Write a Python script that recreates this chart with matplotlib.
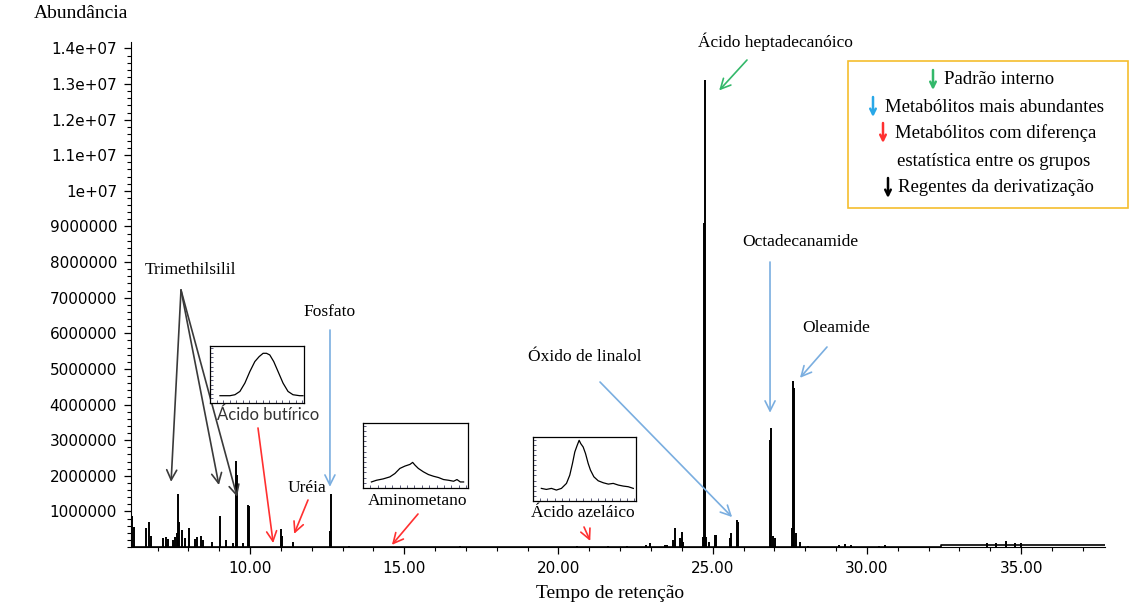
import matplotlib
matplotlib.use("Agg")
import matplotlib.pyplot as plt
from matplotlib.patches import Rectangle
from matplotlib.ticker import MultipleLocator, FixedLocator, NullFormatter

# # Dados do cromatograma (tempo de retenção em min, abundância)
peak_rt = [
    6.17, 6.24, 6.63, 6.73, 6.79, 7.17, 7.28, 7.35, 7.49, 7.57, 7.62, 7.68,
    7.71, 7.79, 7.89, 8.03, 8.22, 8.29, 8.41, 8.46, 8.76, 9.03, 9.22, 9.46,
    9.55, 9.59, 9.76, 9.94, 9.98, 11.01, 11.05, 11.40, 12.59, 12.63,
    13.2, 16.8, 20.59, 21.6, 22.21, 22.84, 22.97, 23.46, 23.52, 23.70,
    23.77, 23.94, 24.00, 24.04, 24.67, 24.72, 24.75, 24.79, 24.88, 25.08,
    25.11, 25.55, 25.60, 25.79, 25.82, 26.86, 26.90, 26.95, 27.02, 27.57,
    27.62, 27.65, 27.70, 27.83, 28.1, 29.1, 29.3, 29.5, 30.4, 30.6,
    33.9, 34.2, 34.5, 34.8, 35.0,
]
peak_abund = [
    0.87e6, 0.55e6, 0.53e6, 0.70e6, 0.30e6, 0.25e6, 0.28e6, 0.22e6, 0.20e6,
    0.28e6, 0.39e6, 1.50e6, 0.70e6, 0.49e6, 0.25e6, 0.53e6, 0.22e6, 0.28e6,
    0.30e6, 0.20e6, 0.14e6, 0.88e6, 0.19e6, 0.11e6, 2.41e6, 2.03e6, 0.11e6,
    1.19e6, 1.14e6, 0.51e6, 0.30e6, 0.14e6, 0.44e6, 1.49e6,
    0.03e6, 0.02e6, 0.03e6, 0.03e6, 0.04e6, 0.05e6, 0.10e6, 0.05e6, 0.05e6,
    0.19e6, 0.52e6, 0.24e6, 0.43e6, 0.14e6, 0.28e6, 9.1e6, 13.1e6, 0.28e6,
    0.14e6, 0.35e6, 0.33e6, 0.24e6, 0.38e6, 0.76e6, 0.71e6, 3.0e6, 3.33e6,
    0.30e6, 0.24e6, 0.52e6, 4.66e6, 4.47e6, 0.38e6, 0.14e6, 0.03e6, 0.05e6,
    0.08e6, 0.05e6, 0.04e6, 0.05e6,
    0.10e6, 0.10e6, 0.18e6, 0.10e6, 0.10e6,
]
# linha de base (sobe um pouco a partir de 32.4 min)
base_rt = [6.14, 32.4, 32.4, 37.72]
base_abund = [0, 0, 0.05e6, 0.05e6]

# eixos
x_ticks = [10, 15, 20, 25, 30, 35]
x_tick_labels = ["10.00", "15.00", "20.00", "25.00", "30.00", "35.00"]
y_ticks = [1e6, 2e6, 3e6, 4e6, 5e6, 6e6, 7e6, 8e6, 9e6, 1e7, 1.1e7, 1.2e7, 1.3e7, 1.4e7]
y_tick_labels = ["1000000", "2000000", "3000000", "4000000", "5000000",
                 "6000000", "7000000", "8000000", "9000000", "1e+07",
                 "1.1e+07", "1.2e+07", "1.3e+07", "1.4e+07"]

# # Espectros dos insets (fração do eixo)
but_x = [0.106, 0.212, 0.265, 0.318, 0.371, 0.424, 0.477, 0.523, 0.565,
         0.601, 0.636, 0.678, 0.724, 0.777, 0.830, 0.883, 0.954, 0.989]
but_y = [0.128, 0.128, 0.145, 0.203, 0.349, 0.552, 0.727, 0.814, 0.872,
         0.872, 0.843, 0.727, 0.552, 0.349, 0.203, 0.145, 0.128, 0.128]
amino_x = [0.080, 0.128, 0.192, 0.256, 0.304, 0.351, 0.399, 0.447, 0.473,
           0.495, 0.527, 0.575, 0.623, 0.671, 0.719, 0.767, 0.815, 0.863,
           0.895, 0.927, 0.958]
amino_y = [0.093, 0.119, 0.140, 0.171, 0.223, 0.301, 0.337, 0.363, 0.394,
           0.352, 0.301, 0.249, 0.207, 0.181, 0.161, 0.130, 0.119, 0.104,
           0.130, 0.093, 0.093]
aze_x = [0.081, 0.130, 0.179, 0.227, 0.276, 0.325, 0.357, 0.383, 0.406,
         0.429, 0.448, 0.464, 0.487, 0.510, 0.536, 0.558, 0.591, 0.633,
         0.682, 0.731, 0.779, 0.828, 0.877, 0.925, 0.974]
aze_y = [0.197, 0.181, 0.197, 0.171, 0.197, 0.275, 0.404, 0.585, 0.767,
         0.870, 0.948, 0.896, 0.844, 0.741, 0.585, 0.482, 0.378, 0.316,
         0.285, 0.264, 0.275, 0.249, 0.233, 0.223, 0.197]

W, H = 1136, 607
SERIF = ["Liberation Serif", "DejaVu Serif"]
GREEN = "#33b86a"
BLUE = "#7aaee0"
RED = "#ff3030"
DARK = "#3a3a3a"


def fxy(x, y):
    # pixel da imagem (topo-esquerda) -> fração da figura
    return x / W, 1 - y / H


fig = plt.figure(figsize=(W / 100, H / 100), dpi=100)
ax = fig.add_axes([131 / W, 1 - 547 / H, 974 / W, 505 / H])

# Cromatograma
ax.plot(base_rt, base_abund, color="black", lw=1.2)
ax.vlines(peak_rt, 0, peak_abund, color="black", lw=1.4)

ax.set_xlim(6.14, 37.72)
ax.set_ylim(0, 14.18e6)
ax.spines[["top", "right"]].set_visible(False)
ax.xaxis.set_major_locator(FixedLocator(x_ticks))
ax.set_xticklabels(x_tick_labels)
ax.xaxis.set_minor_locator(MultipleLocator(1))
ax.yaxis.set_major_locator(FixedLocator(y_ticks))
ax.set_yticklabels(y_tick_labels)
ax.yaxis.set_minor_locator(MultipleLocator(0.2e6))
ax.tick_params(axis="both", which="major", length=5, width=0.9, labelsize=11, pad=5)
ax.tick_params(axis="both", which="minor", length=3, width=0.8)
for lab in ax.get_xticklabels() + ax.get_yticklabels():
    lab.set_family("DejaVu Sans")

# títulos dos eixos
fig.text(*fxy(81, 14), "Abundância", family=SERIF, fontsize=14, ha="center", va="center")
fig.text(*fxy(610, 593), "Tempo de retenção", family=SERIF, fontsize=14, ha="center", va="center")


def seta(rt, val, x0, y0, color):
    ax.annotate("", xy=(rt, val), xycoords="data",
                xytext=fxy(x0, y0), textcoords="figure fraction",
                arrowprops=dict(arrowstyle="->", color=color, lw=1.2,
                                mutation_scale=18, shrinkA=0, shrinkB=0))


# Rótulos e setas
fig.text(*fxy(775, 42), "Ácido heptadecanóico", family=SERIF, fontsize=12.5, ha="center", va="center")
seta(25.21, 12.82e6, 747, 60, GREEN)

fig.text(*fxy(800, 242), "Octadecanamide", family=SERIF, fontsize=12.5, ha="center", va="center")
seta(26.86, 3.77e6, 770, 262, BLUE)

fig.text(*fxy(836, 328), "Oleamide", family=SERIF, fontsize=12.5, ha="center", va="center")
seta(27.83, 4.75e6, 827, 347, BLUE)

fig.text(*fxy(585, 357), "Óxido de linalol", family=SERIF, fontsize=12.5, ha="center", va="center")
seta(25.63, 0.84e6, 600, 382, BLUE)

fig.text(*fxy(330, 312), "Fosfato", family=SERIF, fontsize=12.5, ha="center", va="center")
seta(12.59, 1.69e6, 330, 330, BLUE)

fig.text(*fxy(190, 270), "Trimethilsilil", family=SERIF, fontsize=12.5, ha="center", va="center")
for rt, val in [(7.44, 1.83e6), (8.99, 1.74e6), (9.58, 1.41e6)]:
    seta(rt, val, 181, 290, DARK)

fig.text(*fxy(268, 415), "Ácido butírico", family=["Lato", "DejaVu Sans"], fontsize=12, ha="center", va="center", color="#333333")
seta(10.75, 0.11e6, 258, 428, RED)

fig.text(*fxy(307, 488), "Uréia", family=SERIF, fontsize=12.5, ha="center", va="center")
seta(11.43, 0.37e6, 308, 500, RED)

fig.text(*fxy(418, 501), "Aminometano", family=SERIF, fontsize=12.5, ha="center", va="center")
seta(14.60, 0.06e6, 418, 514, RED)

fig.text(*fxy(583, 513), "Ácido azeláico", family=SERIF, fontsize=12.5, ha="center", va="center")
seta(21.03, 0.17e6, 584, 527, RED)


# # Insets
def inset(x0, y0, x1, y1, xs, ys):
    iax = fig.add_axes([x0 / W, 1 - y1 / H, (x1 - x0) / W, (y1 - y0) / H])
    iax.plot(xs, ys, color="black", lw=0.9)
    iax.set_xlim(0, 1)
    iax.set_ylim(0, 1)
    iax.xaxis.set_major_locator(MultipleLocator(0.07))
    iax.yaxis.set_major_locator(MultipleLocator(0.08))
    iax.xaxis.set_major_formatter(NullFormatter())
    iax.yaxis.set_major_formatter(NullFormatter())
    iax.tick_params(direction="in", length=2.5, width=0.7, colors="#5a5a7a")
    for sp in iax.spines.values():
        sp.set_linewidth(0.9)
    return iax


inset(210, 346, 304, 403, but_x, but_y)
inset(363, 423, 468, 488, amino_x, amino_y)
inset(533, 437, 636, 501, aze_x, aze_y)

# # Legenda
fig.patches.append(Rectangle(fxy(848, 208), 280 / W, 147 / H, transform=fig.transFigure,
                             fill=False, edgecolor="#f5bd2e", lw=1.2))
legend_arrows = [(933, 80, GREEN), (873, 107, "#29a8e8"), (883, 133, RED), (888, 188, "black")]
legend_texts = [(944, 80, "Padrão interno"), (885, 107, "Metabólitos mais abundantes"),
                (895, 133, "Metabólitos com diferença"), (898, 188, "Regentes da derivatização")]
for x, y, c in legend_arrows:
    fig.add_artist(plt.Annotation("", xy=fxy(x, y + 10), xycoords="figure fraction",
                                  xytext=fxy(x, y - 10), textcoords="figure fraction",
                                  arrowprops=dict(arrowstyle="->", color=c, lw=1.8,
                                                  mutation_scale=10, shrinkA=0, shrinkB=0)))
for x, y, t in legend_texts:
    fig.text(*fxy(x, y), t, family=SERIF, fontsize=13.5, ha="left", va="center")
fig.text(*fxy(994, 161), "estatística entre os grupos", family=SERIF, fontsize=13.5, ha="center", va="center")

fig.savefig("out.png", dpi=100)
